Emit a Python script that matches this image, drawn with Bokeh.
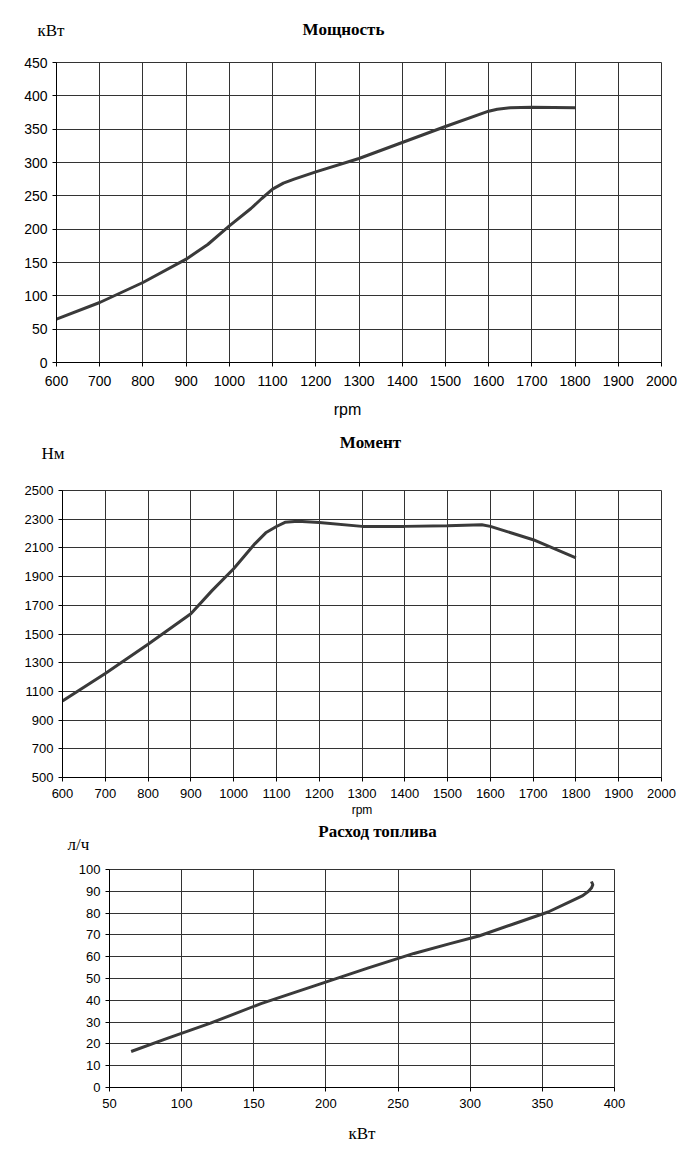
from bokeh.plotting import figure
from bokeh.models import Range1d, FixedTicker
from bokeh.core.properties import value
from bokeh.embed import file_html
from bokeh.resources import INLINE

# --- data ---
power_rpm = [600, 700, 800, 900, 950, 1000, 1050, 1075, 1100, 1125, 1150, 1200, 1300, 1400, 1500, 1600, 1620, 1650, 1700, 1800]
power_kw = [65, 90, 120, 155, 177, 205, 231, 246, 260, 269, 275, 286, 306, 330, 354, 377, 380, 382, 383, 382]

torque_rpm = [600, 700, 800, 900, 950, 1000, 1050, 1075, 1100, 1120, 1150, 1200, 1300, 1400, 1500, 1580, 1600, 1700, 1800]
torque_nm = [1033, 1224, 1428, 1641, 1804, 1955, 2130, 2205, 2249, 2278, 2285, 2277, 2250, 2250, 2254, 2261, 2250, 2157, 2031]

fuel_kw = [65, 90, 120, 155, 205, 230, 261, 286, 306, 330, 354, 370, 378, 382, 384, 385, 384]
fuel_lh = [16.5, 22.5, 29.5, 38.5, 49.5, 55, 61.5, 66, 69.5, 75, 80.5, 85.5, 88, 90, 91.5, 93, 94.5]

rpm_ticks = list(range(600, 2001, 100))
power_ticks = list(range(0, 451, 50))
torque_ticks = list(range(500, 2501, 200))
fuel_x_ticks = list(range(50, 401, 50))
fuel_y_ticks = list(range(0, 101, 10))

LINE = "#3a3a3a"
GRID = "#333333"
SERIF = "Liberation Serif"
SANS = "Liberation Sans"
W = 700


def make_fig(xr, yr, xt, yt, fw, fh, bl, bt, bb, tick_font, x_standoff):
    p = figure(frame_width=fw, frame_height=fh, x_range=Range1d(*xr), y_range=Range1d(*yr),
               output_backend="svg", toolbar_location=None,
               min_border_left=bl, min_border_right=W - bl - fw, min_border_top=bt, min_border_bottom=bb)
    p.xaxis.ticker = FixedTicker(ticks=xt)
    p.yaxis.ticker = FixedTicker(ticks=yt)
    p.xgrid.ticker = FixedTicker(ticks=xt)
    p.ygrid.ticker = FixedTicker(ticks=yt)
    for g in (p.xgrid, p.ygrid):
        g.grid_line_color = GRID
        g.grid_line_width = 1
    p.outline_line_color = GRID
    for ax in (p.xaxis, p.yaxis):
        ax.axis_line_color = "black"
        ax.major_tick_line_color = "black"
        ax.major_tick_out = 4
        ax.major_tick_in = 0
        ax.minor_tick_line_color = None
        ax.major_label_text_font = SANS
        ax.major_label_text_font_size = tick_font
        ax.major_label_text_color = "black"
        ax.axis_label_text_color = "black"
    p.xaxis.major_label_standoff = x_standoff
    p.yaxis.major_label_standoff = 5
    p.background_fill_color = "white"
    p.border_fill_color = "white"
    return p


def make_header(top, bottom):
    # text strip whose data coordinates equal page pixels (y grows downward)
    h = figure(width=W, height=bottom - top, x_range=Range1d(0, W), y_range=Range1d(bottom, top),
               output_backend="svg", toolbar_location=None, x_axis_type=None, y_axis_type=None,
               min_border=0)
    h.outline_line_color = None
    h.background_fill_color = "white"
    h.border_fill_color = "white"
    h.grid.visible = False
    return h


def put_text(h, x, y, s, font, size, style="normal", align="left"):
    h.text(x=[x], y=[y], text=[s], text_font=value(font), text_font_size=value(size),
           text_font_style=style, text_align=align, text_baseline="middle", text_color="black")


# --- header 1 ---
h1 = make_header(0, 50)
put_text(h1, 343, 29, "Мощность", SERIF, "17px", "bold", "center")
put_text(h1, 37, 30, "кВт", SERIF, "17px")

# --- Figure 1: power (page y 50..395, frame 62..362) ---
p1 = make_fig((600, 2000), (0, 450), rpm_ticks, power_ticks, 605, 300, 56, 12, 33, "14px", 9)
p1.line(power_rpm, power_kw, line_color=LINE, line_width=3)

# --- header 2 (page y 395..480) ---
h2 = make_header(395, 480)
put_text(h2, 347, 409, "rpm", SANS, "16px", align="center")
put_text(h2, 370, 442, "Момент", SERIF, "17px", "bold", "center")
put_text(h2, 41, 453, "Нм", SERIF, "17px")

# --- Figure 2: torque (page y 480..819, frame 490..777) ---
p2 = make_fig((600, 2000), (500, 2500), rpm_ticks, torque_ticks, 599, 287, 62, 10, 42, "13px", 7)
p2.line(torque_rpm, torque_nm, line_color=LINE, line_width=3)
p2.xaxis.axis_label = "rpm"
p2.xaxis.axis_label_text_font = SANS
p2.xaxis.axis_label_text_font_size = "12px"
p2.xaxis.axis_label_text_font_style = "normal"
p2.xaxis.axis_label_standoff = 2

# --- header 3 (page y 819..860) ---
h3 = make_header(819, 860)
put_text(h3, 377, 831, "Расход топлива", SERIF, "17px", "bold", "center")
put_text(h3, 67, 844, "л/ч", SERIF, "17px")

# --- Figure 3: fuel (page y 860..1155, frame 869..1087) ---
p3 = make_fig((50, 400), (0, 100), fuel_x_ticks, fuel_y_ticks, 505, 218, 109, 9, 68, "13px", 7)
p3.line(fuel_kw, fuel_lh, line_color=LINE, line_width=3)
p3.xaxis.axis_label = "кВт"
p3.xaxis.axis_label_text_font = SERIF
p3.xaxis.axis_label_text_font_size = "17px"
p3.xaxis.axis_label_text_font_style = "normal"
p3.xaxis.axis_label_standoff = 13

open("out.html", "w").write(file_html([h1, p1, h2, p2, h3, p3], INLINE))
